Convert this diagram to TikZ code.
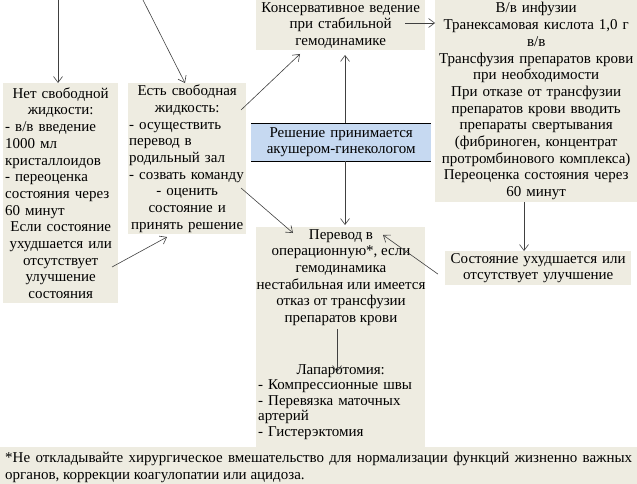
\documentclass[tikz,border=0pt]{standalone}
\usepackage{fontspec}
\setmainfont{Liberation Serif}
\usetikzlibrary{arrows.meta}
\definecolor{beige}{HTML}{EEECE1}
\definecolor{lblue}{HTML}{C6D9F1}
\definecolor{arrowc}{HTML}{404040}
\tikzset{
  box/.style={fill=beige, anchor=north west, inner sep=2pt, font=\fontsize{15}{16.7}\selectfont},
  bgbox/.style={fill=beige, anchor=north west, inner sep=0pt},
  txt/.style={inner sep=0pt, font=\fontsize{15}{16.7}\selectfont},
  conn/.style={draw=arrowc, line width=0.6pt, -{Straight Barb[length=6pt,width=9pt]}}
}
\begin{document}
\begin{tikzpicture}[x=1pt,y=-1pt]
\useasboundingbox (0,0) rectangle (637,484);
% boxes
\node[box, text width=111pt, minimum height=220pt] (b1) at (3,83) {%
{\centering Нет свободной\\ жидкости:\par}
\raggedright - в/в введение\\ 1000 мл\\ кристаллоидов\\ - переоценка\\ состояния через\\ 60 минут\par
{\centering Если состояние\\ ухудшается или\\ отсутствует\\ улучшение\\ состояния\par}};
\node[box, inner sep=1pt, text width=116pt, minimum height=151pt] (b2) at (128,83) {%
{\centering Есть свободная\\ жидкость:\par}
\raggedright - осуществить\\ перевод в\\ родильный зал\\ \mbox{- созвать команду}\par
{\centering - оценить\\ состояние и\\ принять решение\par}};
\node[box, text width=165pt, minimum height=49pt, align=center] (b3) at (256,0) {Консервативное ведение\\ при стабильной\\ гемодинамике};
\node[box, text width=198pt, minimum height=202pt, align=center] (b4) at (435,0) {В/в инфузии\\ Транексамовая кислота 1,0 г\\ в/в\\ Трансфузия препаратов крови\\ при необходимости\\ При отказе от трансфузии\\ препаратов крови вводить\\ препараты свертывания\\ (фибриноген, концентрат\\ протромбинового комплекса)\\ Переоценка состояния через\\ 60 минут};
\node[box, fill=lblue, text width=176pt, minimum height=38pt, align=center] (b5) at (251,123) {Решение принимается\\ акушером-гинекологом};
\draw[line width=0.8pt] (b5.north west) -- (b5.north east) (b5.south west) -- (b5.south east);
\node[bgbox, minimum width=169pt, minimum height=220pt] (b6) at (256,227) {};
\node[txt, align=center, anchor=north] (b6t) at (341,229) {Перевод в\\ операционную*, если\\ гемодинамика\\ нестабильная или имеется\\ отказ от трансфузии\\ препаратов крови};
\node[txt, anchor=north west, text width=165pt, font=\fontsize{15}{15.5}\selectfont] (b6l) at (258,364) {%
{\centering Лапаротомия:\par}
\raggedright - Компрессионные швы\\ - Перевязка маточных\\ артерий\\ - Гистерэктомия\par};
\node[box, text width=182pt, minimum height=33pt, align=center] (b7) at (445,251) {Состояние ухудшается или\\ отсутствует улучшение};
\node[bgbox, minimum width=637pt, minimum height=37pt] (fn) at (0,447) {};
\node[txt, anchor=north west, text width=627pt, align=justify, font=\fontsize{15}{17}\selectfont] (fnt) at (5,452) {*Не откладывайте хирургическое вмешательство для нормализации функций жизненно важных органов, коррекции коагулопатии или ацидоза.};
% free ends
\coordinate (t1) at (58,0);
\coordinate (t2) at (143,0);
% connectors
\draw[conn] (t1) -- (t1 |- b1.north);
\draw[conn] (t2) -- (185,83);
\draw[conn] (241,110) -- (300,54);
\draw[conn] (b5.north -| 345,0) -- (345,55);
\draw[conn] (405,23) -- (b4.west |- 0,23);
\draw[conn] (b4.south -| 524,0) -- (b7.north -| 524,0);
\draw[conn] (b7.west) ++(-7,6) -- (383,235);
\draw[conn] (b5.south -| 345,0) -- (345,225);
\draw[conn] (241,188) -- (293,233);
\draw[conn] (112,267) -- (167,237);
\draw[conn] (337,329) -- (337,372);
\end{tikzpicture}
\end{document}
